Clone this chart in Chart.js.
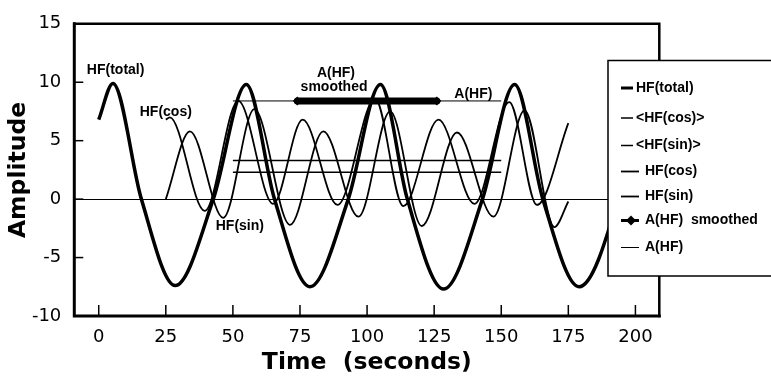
<!DOCTYPE html>
<html>
<head>
<meta charset="utf-8">
<script src="https://cdn.jsdelivr.net/npm/chart.js@4.4.0/dist/chart.umd.min.js"></script>
<style>
  html, body { margin: 0; padding: 0; background: #fff; }
</style>
</head>
<body>
<canvas id="myChart" width="771" height="377"></canvas>
<script>
// valeurs (temps en secondes, amplitude)
const totalT = [0, 5.3, 15.9, 28.5, 42.7, 55, 65.5, 78.7, 93, 105, 115, 128.5, 143, 155, 165.5, 179, 193.5, 200];
const totalV = [6.8, 9.9, 0, -7.4, 0, 9.8, 0, -7.5, 0, 9.8, 0, -7.7, 0, 9.8, 0, -7.5, 0, 6.8];

const cosT = [25, 26.5, 39.5, 52, 65, 76, 89, 103, 113.5, 126.6, 140, 153, 163.3, 175];
const cosV = [6.8, 7.0, -1.0, 8.4, -0.4, 6.8, -0.5, 8.6, -0.6, 6.8, -0.4, 8.3, -0.5, 6.5];

const sinT = [25, 34, 46.4, 58, 71.3, 83.7, 96.8, 108.6, 120.4, 133.5, 147.1, 158.7, 169.8, 175];
const sinV = [0, 5.8, -1.6, 7.7, -2.2, 5.8, -1.5, 7.5, -2.3, 5.7, -1.5, 7.6, -2.4, -0.2];

const meanT = [50, 150];
const meanCos = [3.3, 3.3];
const meanSin = [2.3, 2.3];

const ampT = [50, 150];
const ampV = [8.4, 8.4];
const smoothT = [74, 126];
const smoothV = [8.4, 8.4];

const xTicks = [0, 25, 50, 75, 100, 125, 150, 175, 200];
const yTicks = [-10, -5, 0, 5, 10, 15];

const toXY = (xs, ys) => xs.map((x, i) => ({x: x, y: ys[i]}));

// étiquettes posées sur le graphique (coordonnées en données)
const notes = [
    {text: 'HF(total)', t: 6.3, v: 11.0},
    {text: 'HF(cos)', t: 25, v: 7.45},
    {text: 'HF(sin)', t: 52.6, v: -2.3},
    {text: 'A(HF)', t: 88.4, v: 10.75},
    {text: 'smoothed', t: 87.7, v: 9.6},
    {text: 'A(HF)', t: 139.6, v: 8.95}
];
const legendRows = [88, 118, 145.5, 171.5, 196.5, 220.5, 247.5];

const framePlugin = {
    id: 'framePlugin',
    afterDatasetsDraw(chart) {
        const {ctx, chartArea: a, scales: {x, y}} = chart;
        ctx.save();
        ctx.strokeStyle = '#000';
        ctx.lineJoin = 'miter';
        ctx.lineCap = 'square';
        ctx.lineWidth = 3;
        ctx.beginPath();
        ctx.moveTo(a.left, a.top);
        ctx.lineTo(a.left, a.bottom);
        ctx.lineTo(a.right, a.bottom);
        ctx.stroke();
        ctx.lineWidth = 2.5;
        ctx.beginPath();
        ctx.moveTo(a.left, a.top);
        ctx.lineTo(a.right, a.top);
        ctx.lineTo(a.right, a.bottom);
        ctx.stroke();

        // graduations vers l'intérieur
        ctx.lineCap = 'butt';
        ctx.lineWidth = 1.5;
        xTicks.forEach(v => {
            const px = x.getPixelForValue(v);
            ctx.beginPath();
            ctx.moveTo(px, a.bottom);
            ctx.lineTo(px, a.bottom - 11);
            ctx.stroke();
        });
        yTicks.forEach(v => {
            const py = y.getPixelForValue(v);
            ctx.beginPath();
            ctx.moveTo(a.left, py);
            ctx.lineTo(a.left + 9, py);
            ctx.stroke();
        });

        ctx.fillStyle = '#000';
        ctx.font = 'bold 14px "Liberation Sans", Arial, sans-serif';
        ctx.textAlign = 'center';
        ctx.textBaseline = 'middle';
        notes.forEach(n => {
            ctx.fillText(n.text, x.getPixelForValue(n.t), y.getPixelForValue(n.v));
        });
        ctx.restore();
    },
    afterDraw(chart) {
        const ctx = chart.ctx;
        ctx.save();
        ctx.fillStyle = '#fff';
        ctx.fillRect(608, 60.5, 170, 215.5);
        ctx.strokeStyle = '#000';
        ctx.lineWidth = 1.5;
        ctx.strokeRect(608, 60.5, 170, 215.5);

        ctx.font = 'bold 14px "Liberation Sans", Arial, sans-serif';
        ctx.textAlign = 'left';
        ctx.textBaseline = 'middle';
        ctx.fillStyle = '#000';
        chart.data.datasets.forEach((ds, i) => {
            const yy = legendRows[i];
            const longer = i >= 3;
            const x0 = 621;
            const x1 = longer ? 639 : 633;
            const tx = longer ? 645 : 636;
            ctx.lineWidth = Math.min(ds.borderWidth, 3);
            ctx.beginPath();
            ctx.moveTo(x0, yy);
            ctx.lineTo(x1, yy);
            ctx.stroke();
            if (ds.pointStyle === 'rectRot') {
                ctx.beginPath();
                ctx.moveTo(631, yy - 5);
                ctx.lineTo(636, yy);
                ctx.lineTo(631, yy + 5);
                ctx.lineTo(626, yy);
                ctx.closePath();
                ctx.fill();
            }
            ctx.fillText(ds.label, tx, yy);
        });
        ctx.restore();
    }
};

const thin = {borderColor: '#000', pointRadius: 0, fill: false, cubicInterpolationMode: 'monotone'};

const data = {
    datasets: [
        Object.assign({label: 'HF(total)', data: toXY(totalT, totalV), borderWidth: 3.5}, thin),
        Object.assign({label: '<HF(cos)>', data: toXY(meanT, meanCos), borderWidth: 1.5}, thin),
        Object.assign({label: '<HF(sin)>', data: toXY(meanT, meanSin), borderWidth: 1.5}, thin),
        Object.assign({label: 'HF(cos)', data: toXY(cosT, cosV), borderWidth: 1.8}, thin),
        Object.assign({label: 'HF(sin)', data: toXY(sinT, sinV), borderWidth: 1.8}, thin),
        {
            label: 'A(HF)  smoothed',
            data: toXY(smoothT, smoothV),
            borderColor: '#000',
            backgroundColor: '#000',
            borderWidth: 7,
            borderCapStyle: 'round',
            pointStyle: 'rectRot',
            pointRadius: 4.5,
            pointBorderWidth: 0
        },
        Object.assign({label: 'A(HF)', data: toXY(ampT, ampV), borderWidth: 1}, thin)
    ]
};

const options = {
    responsive: false,
    animation: false,
    layout: {padding: {top: 20, right: 111.7, left: 0, bottom: 0}},
    plugins: {legend: {display: false}, tooltip: {enabled: false}},
    scales: {
        x: {
            type: 'linear',
            min: -9.1,
            max: 208.9,
            afterBuildTicks: s => { s.ticks = xTicks.map(v => ({value: v})); },
            afterFit: s => { s.height = 61; },
            grid: {display: false, drawTicks: false},
            border: {display: false},
            ticks: {
                color: '#000',
                font: {family: 'DejaVu Sans', size: 18},
                padding: 11,
                maxRotation: 0,
                autoSkip: false
            },
            title: {
                display: true,
                text: 'Time  (seconds)',
                color: '#000',
                font: {family: 'DejaVu Sans', size: 23.5, weight: 'bold', lineHeight: 1},
                padding: {top: 0, bottom: 2}
            }
        },
        y: {
            type: 'linear',
            min: -10,
            max: 15,
            afterBuildTicks: s => { s.ticks = yTicks.map(v => ({value: v})); },
            afterFit: s => { s.width = 74.3; },
            grid: {
                drawTicks: false,
                lineWidth: 1,
                color: c => (c.tick && c.tick.value === 0) ? '#000' : 'rgba(0,0,0,0)'
            },
            border: {display: false},
            ticks: {
                color: '#000',
                font: {family: 'DejaVu Sans', size: 18},
                padding: 13
            },
            title: {
                display: true,
                text: 'Amplitude',
                color: '#000',
                font: {family: 'DejaVu Sans', size: 23.5, weight: 'bold', lineHeight: 1},
                padding: {top: 7, bottom: 0}
            }
        }
    }
};

new Chart(document.getElementById('myChart'), {
    type: 'line',
    data: data,
    options: options,
    plugins: [framePlugin]
});
</script>
</body>
</html>
